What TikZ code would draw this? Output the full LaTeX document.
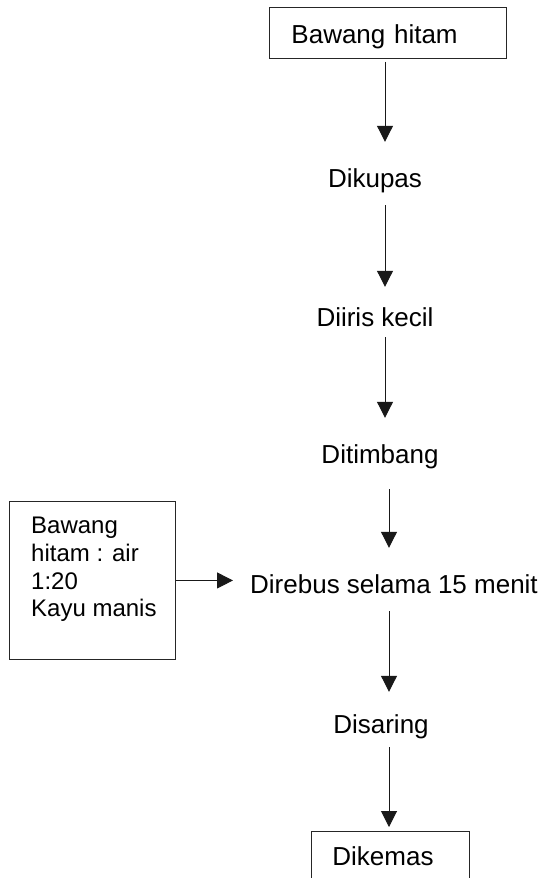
\documentclass[tikz,border=0pt]{standalone}
\usepackage{fontspec}
\setmainfont{Liberation Sans}
\usetikzlibrary{arrows.meta}
\begin{document}
\begin{tikzpicture}[x=1pt,y=-1pt,
  flow/.style={-{Triangle[length=16pt,width=16pt]}, line width=1pt, draw=black!90},
  stage/.style={inner sep=0pt, anchor=base, font=\fontsize{26pt}{30pt}\selectfont},
  boxed/.style={draw=black!85, line width=0.9pt, inner ysep=0pt, align=left, anchor=north west, font=\fontsize{26pt}{30pt}\selectfont}]
\useasboundingbox (0,0) rectangle (547,878);
\clip (0,0) rectangle (547,878);
\coordinate (colA) at (385,0);
\coordinate (colB) at (389,0);
% nodes
\node[boxed, inner xsep=22pt, text width=193pt, text height=36pt, text depth=15pt] (top) at (269,7) {Bawang hitam};
\node[stage, text height=45pt, text depth=18pt] (dikupas) at (375,187) {Dikupas};
\node[stage, text height=39pt, text depth=11pt] (diiris) at (375,326) {Diiris kecil};
\node[stage, text height=45pt, text depth=26pt] (ditimbang) at (380,463) {Ditimbang};
\node[stage, anchor=base west, inner xsep=17pt, text height=45pt, text depth=18pt] (direbus) at (233,593) {Direbus selama 15 menit};
\node[stage, text height=41pt, text depth=14pt] (disaring) at (381,733) {Disaring};
\node[boxed, inner xsep=21pt, text width=116pt, text height=34pt, text depth=60pt] (dikemas) at (311,831) {Dikemas};
\node[draw=black!85, line width=0.9pt, minimum width=166pt, minimum height=158pt, anchor=north west, inner sep=0pt] (ratio) at (9,501) {};
\node[anchor=north west, inner sep=0pt, align=left, font=\fontsize{24pt}{27.7pt}\selectfont] (ratiotext) at (31,517) {Bawang\\hitam : air\\1:20\\Kayu manis};
% connectors
\draw[flow, shorten <=3pt] (top.south -| colA) -- (dikupas.north -| colA);
\draw[flow] (dikupas.south -| colA) -- (diiris.north -| colA);
\draw[flow] (diiris.south -| colA) -- (ditimbang.north -| colA);
\draw[flow] (ditimbang.south -| colB) -- (direbus.north -| colB);
\draw[flow] (ratio.east) -- (ratio.east -| direbus.west);
\draw[flow] (direbus.south -| colB) -- (disaring.north -| colB);
\draw[flow, shorten >=4pt] (disaring.south -| colB) -- (dikemas.north -| colB);
\end{tikzpicture}
\end{document}
